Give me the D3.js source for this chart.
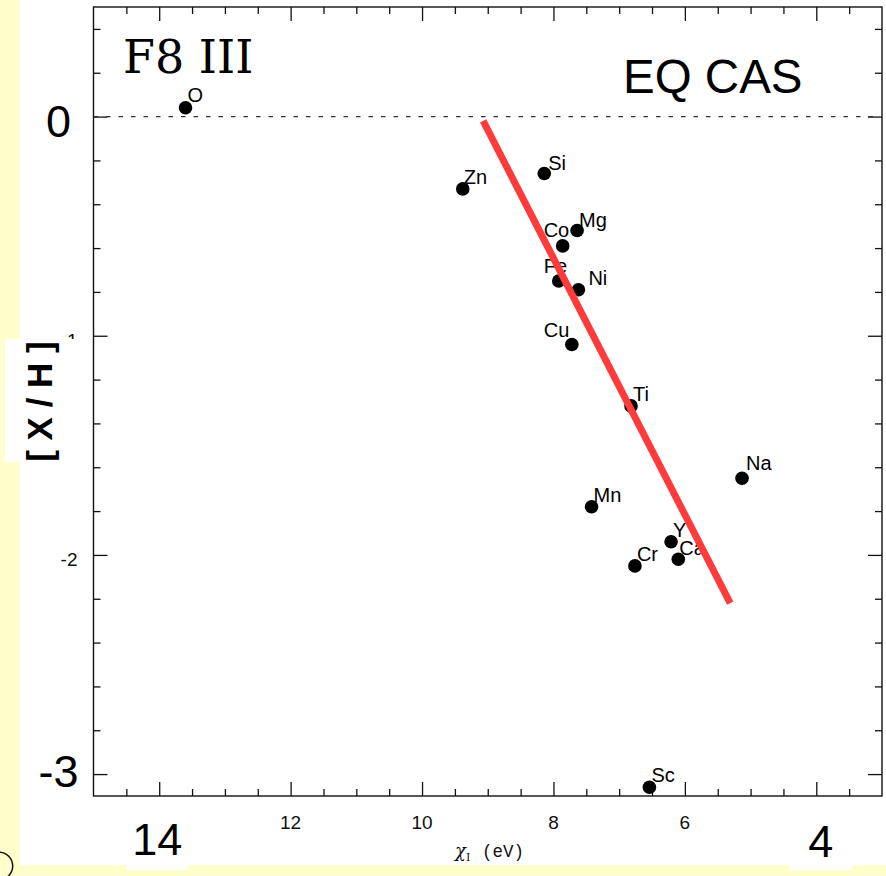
<!DOCTYPE html>
<html>
<head>
<meta charset="utf-8">
<script src="https://cdn.jsdelivr.net/npm/d3@7"></script>
<style>
  html, body { margin: 0; padding: 0; background: #ffffcc; }
  svg { display: block; }
</style>
</head>
<body>
<svg id="chart" width="886" height="876"></svg>
<script>
// Abundance of each element versus its first ionization potential
const elements   = ["O", "Zn", "Si", "Mg", "Co", "Fe", "Ni", "Cu", "Ti", "Na", "Mn", "Y", "Ca", "Cr", "Sc"];
const ionization = [13.60, 9.38, 8.14, 7.64, 7.86, 7.92, 7.62, 7.72, 6.82, 5.13, 7.42, 6.21, 6.10, 6.76, 6.54];
const abundance  = [0.04, -0.33, -0.26, -0.52, -0.59, -0.75, -0.79, -1.04, -1.32, -1.65, -1.78, -1.94, -2.02, -2.05, -3.06];

// Linear trend through the points
const trendX = [9.07, 5.31];
const trendY = [-0.02, -2.22];

// Tick labels
const xTickLabels = [12, 10, 8, 6];
const yTickLabels = [-1, -2];
const bigYLabels  = [0, -3];
const bigXLabels  = [14, 4];

const spectralType = "F8 III";
const starName = "EQ CAS";

// Per-label nudges (px) so element names sit clear of neighbours
const labelNudge = {
  O: [2, -6], Zn: [1, -5], Si: [4, -4], Mg: [2, -3.5], Co: [-19, -9], Fe: [-15, -8],
  Ni: [10, -5], Cu: [-28, -8], Na: [4, -8], Ca: [1, -4.3]
};
const defaultNudge = [2, -5];
// Placement tweaks for the large overlaid axis values
const bigYShift = { "0": 20, "-3": 13 };
const bigXShift = { "14": [-2, 855], "4": [4.5, 857] };

const svg = d3.select("#chart");
const sans = "'Liberation Sans', Arial, Helvetica, sans-serif";

// Backdrop: pale yellow page with a white card
svg.append("rect").attr("x", 0).attr("y", 0).attr("width", 886).attr("height", 876).attr("fill", "#ffffcc");
svg.append("rect").attr("x", 20).attr("y", 0).attr("width", 866).attr("height", 865).attr("fill", "#ffffff");
svg.append("circle").attr("cx", -1).attr("cy", 866).attr("r", 13.7)
  .attr("fill", "none").attr("stroke", "#111").attr("stroke-width", 1.5);

const plotL = 93.5, plotR = 882, plotT = 7, plotB = 796;
const x = d3.scaleLinear().domain([15, 3]).range([plotL, plotR]);
const y = d3.scaleLinear().domain([0.5, -3.1]).range([plotT, plotB]);

const xMajor = d3.range(4, 15, 2);
const xMinor = d3.range(3.5, 15, 0.5).filter(v => v % 2 !== 0);
const yMajor = [-3, -2, -1, 0];
const yMinor = d3.range(-30, 5, 2).map(v => v / 10).filter(v => !Number.isInteger(v));

function drawTicks(axis, tx, ty, values, size) {
  const g = svg.append("g").attr("transform", `translate(${tx},${ty})`)
    .call(axis.tickValues(values).tickSize(-size).tickFormat(""));
  g.select(".domain").remove();
  g.selectAll(".tick line").attr("stroke", "#111").attr("stroke-width", 1.3);
}
drawTicks(d3.axisBottom(x), 0, plotB, xMajor, 14);
drawTicks(d3.axisBottom(x), 0, plotB, xMinor, 7);
drawTicks(d3.axisTop(x), 0, plotT, xMajor, 14);
drawTicks(d3.axisTop(x), 0, plotT, xMinor, 7);
drawTicks(d3.axisLeft(y), plotL, 0, yMajor, 14);
drawTicks(d3.axisLeft(y), plotL, 0, yMinor, 7);
drawTicks(d3.axisRight(y), plotR, 0, yMajor, 14);
drawTicks(d3.axisRight(y), plotR, 0, yMinor, 7);

// Frame
svg.append("rect").attr("x", plotL).attr("y", plotT)
  .attr("width", plotR - plotL).attr("height", plotB - plotT)
  .attr("fill", "none").attr("stroke", "#111").attr("stroke-width", 1.4);

// Solar reference level
svg.append("line")
  .attr("x1", plotL).attr("x2", plotR).attr("y1", y(0)).attr("y2", y(0))
  .attr("stroke", "#333").attr("stroke-width", 1.2).attr("stroke-dasharray", "4.5,8");

// Small tick labels
svg.append("g").selectAll("text").data(xTickLabels).join("text")
  .attr("x", d => x(d)).attr("y", plotB + 33)
  .attr("text-anchor", "middle").attr("font-family", sans).attr("font-size", 19)
  .attr("fill", "#111").text(d => d);
svg.append("g").selectAll("text").data(yTickLabels).join("text")
  .attr("x", plotL - 16).attr("y", d => y(d) + 11)
  .attr("text-anchor", "end").attr("font-family", sans).attr("font-size", 19)
  .attr("fill", "#111").text(d => d);

// Axis title: chi_I (eV)
const xt = svg.append("text").attr("x", 455).attr("y", 857).attr("fill", "#111");
xt.append("tspan").attr("font-family", "'DejaVu Serif', serif").attr("font-style", "italic").attr("font-size", 18).text("χ");
xt.append("tspan").attr("font-family", "'DejaVu Serif', serif").attr("font-size", 11).attr("dy", 4).text("I");
xt.append("tspan").attr("font-family", "'Liberation Mono', monospace").attr("font-size", 17.5).attr("dy", -4).attr("x", 482).text("(eV)");

// Data points
const pts = elements.map((e, i) => ({ e, xi: ionization[i], ab: abundance[i] }));
svg.append("g").selectAll("circle").data(pts).join("circle")
  .attr("cx", d => x(d.xi)).attr("cy", d => y(d.ab)).attr("r", 6.8).attr("fill", "#000");
svg.append("g").selectAll("text").data(pts).join("text")
  .attr("x", d => x(d.xi) + (labelNudge[d.e] || defaultNudge)[0])
  .attr("y", d => y(d.ab) + (labelNudge[d.e] || defaultNudge)[1])
  .attr("font-family", sans).attr("font-size", 20).attr("fill", "#000")
  .text(d => d.e);

// Trend line
svg.append("line")
  .attr("x1", x(trendX[0])).attr("y1", y(trendY[0]))
  .attr("x2", x(trendX[1])).attr("y2", y(trendY[1]))
  .attr("stroke", "#fe3a3a").attr("stroke-width", 7);

// Panel annotations
svg.append("text").attr("x", 123).attr("y", 73)
  .attr("font-family", "'DejaVu Serif', serif").attr("font-size", 46).attr("fill", "#000")
  .text(spectralType);
svg.append("text").attr("x", 623).attr("y", 93)
  .attr("font-family", sans).attr("font-size", 47.5).attr("fill", "#000")
  .text(starName);

// Y-axis title on a white card
svg.append("rect").attr("x", 5).attr("y", 339).attr("width", 73).attr("height", 123).attr("fill", "#fff");
svg.append("text")
  .attr("transform", `translate(52,${401.5}) rotate(-90)`)
  .attr("text-anchor", "middle").attr("font-family", sans).attr("font-weight", "bold")
  .attr("font-size", 35).attr("fill", "#000")
  .text("[ X / H ]");

// Large axis value labels
svg.append("g").selectAll("text").data(bigYLabels).join("text")
  .attr("x", 58.5).attr("y", d => y(d) + bigYShift[String(d)])
  .attr("text-anchor", "middle").attr("font-family", sans).attr("font-size", 45).attr("fill", "#000")
  .text(d => d);
svg.append("g").selectAll("rect").data(bigXLabels).join("rect")
  .attr("x", d => x(d) + bigXShift[String(d)][0] - 30.5).attr("y", 828)
  .attr("width", 61).attr("height", 42).attr("fill", "#fff");
svg.append("g").selectAll("text").data(bigXLabels).join("text")
  .attr("x", d => x(d) + bigXShift[String(d)][0]).attr("y", d => bigXShift[String(d)][1])
  .attr("text-anchor", "middle").attr("font-family", sans).attr("font-size", 45).attr("fill", "#000")
  .text(d => d);
</script>
</body>
</html>
